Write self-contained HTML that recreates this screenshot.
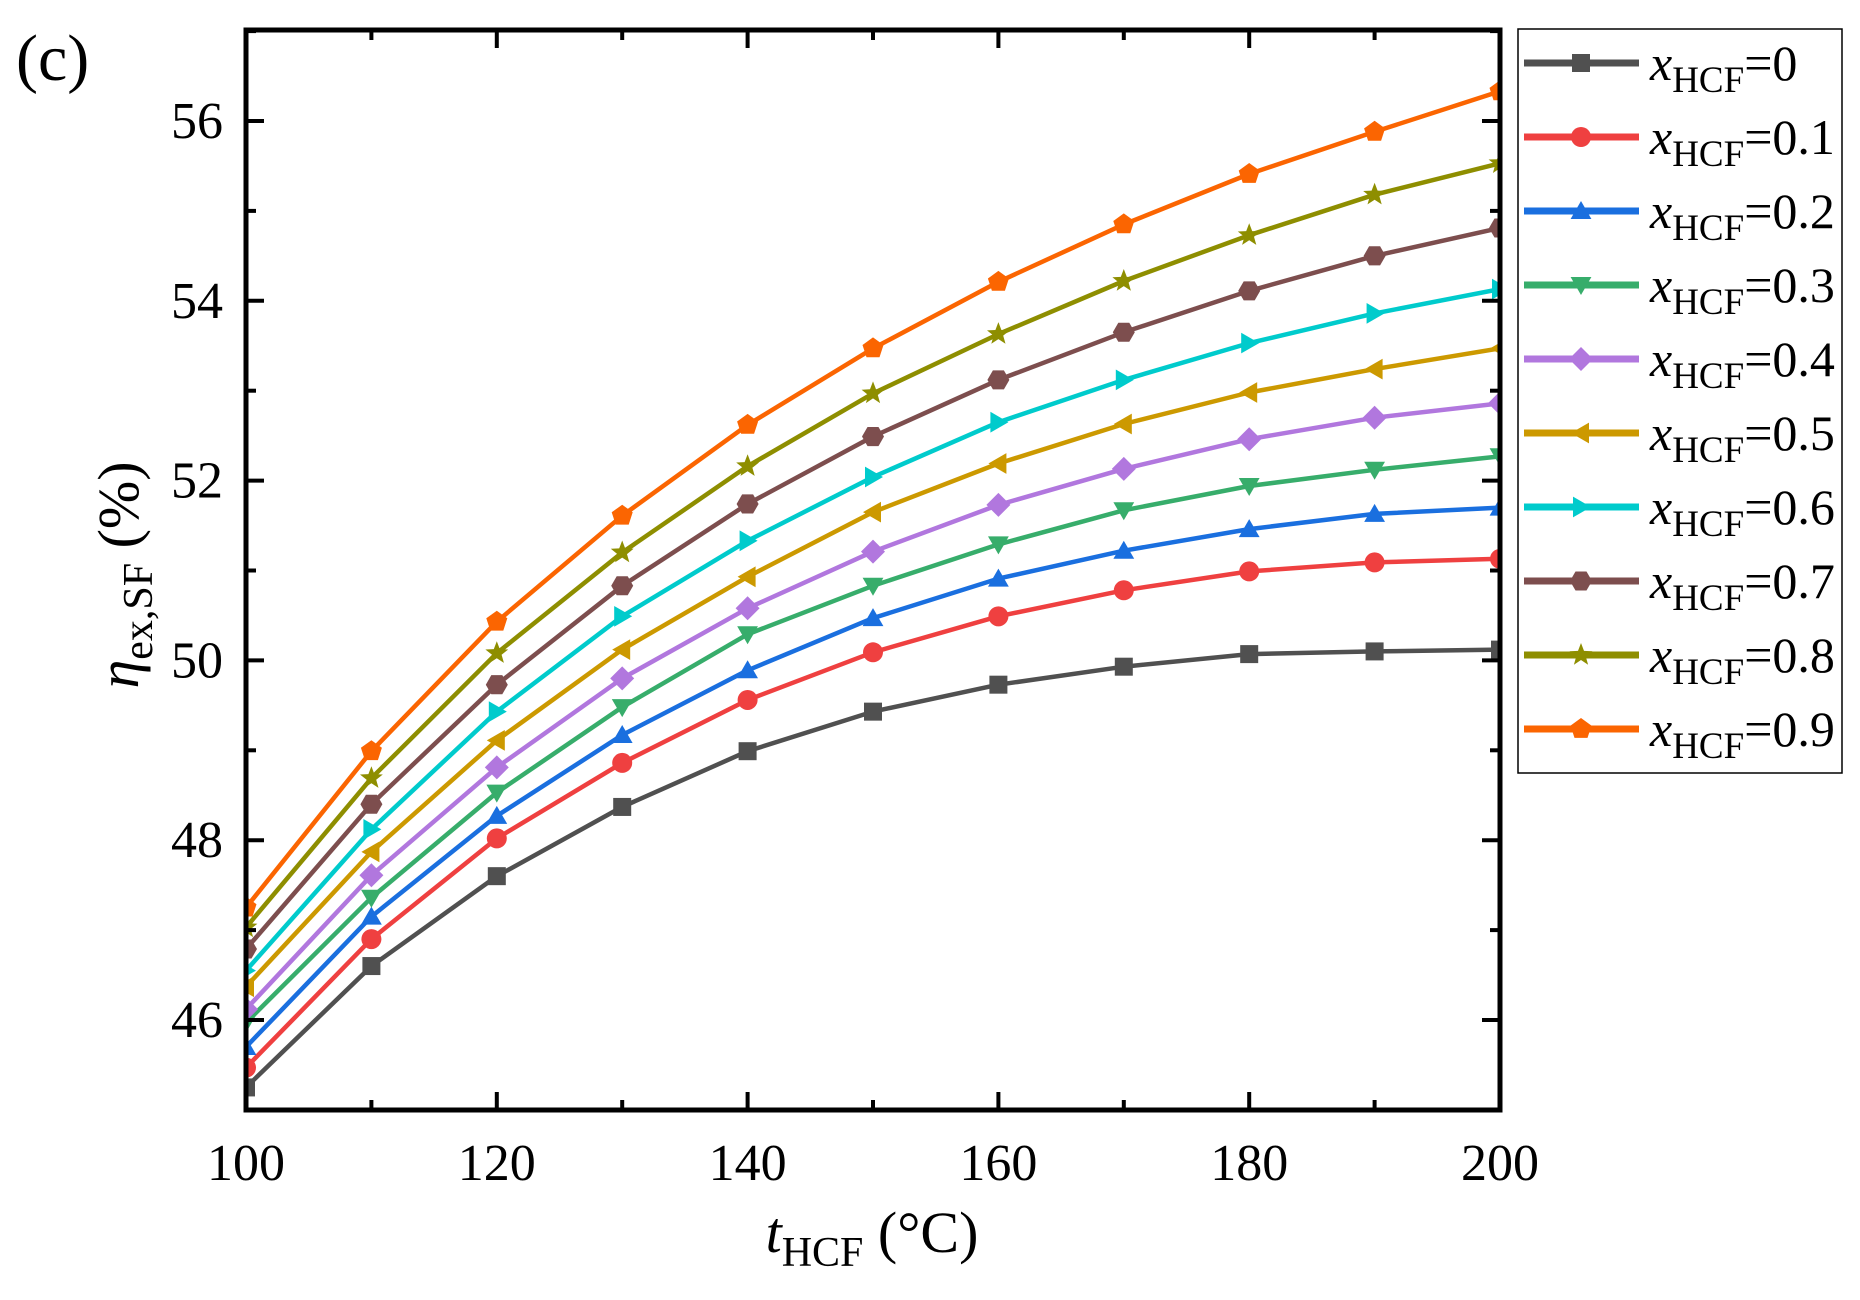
<!DOCTYPE html>
<html><head><meta charset="utf-8"><style>
html,body{margin:0;padding:0;background:#fff;}
svg{display:block;font-family:"Liberation Serif","Times New Roman",serif;}
</style></head><body>
<svg id="s" width="1860" height="1300" viewBox="0 0 1860 1300" xmlns="http://www.w3.org/2000/svg">
<defs><clipPath id="c"><rect x="246" y="30" width="1254" height="1080"/></clipPath></defs>
<text x="16" y="80" font-size="66">(c)</text>
<g id="plot" clip-path="url(#c)"></g>
<g id="axes"></g>
<rect x="1518" y="29" width="324" height="744" fill="none" stroke="#000" stroke-width="1.5"/>
<g id="leg"></g>
<text x="872" y="1252" font-size="58" text-anchor="middle"><tspan font-style="italic">t</tspan><tspan font-size="42" dy="14">HCF</tspan><tspan dy="-14"> (°C)</tspan></text>
<text transform="translate(138,575) rotate(-90)" font-size="58" text-anchor="middle"><tspan font-style="italic">η</tspan><tspan font-size="42" dy="14">ex,SF</tspan><tspan dy="-14"> (%)</tspan></text>
</svg>
<script>
const NS="http://www.w3.org/2000/svg";
function X(t){return 246+(t-100)*12.54;}
function Y(v){return 121+(56-v)*89.9;}
const data=[
["0","#505050","sq",[45.25,46.6,47.6,48.37,48.99,49.43,49.73,49.93,50.07,50.1,50.12]],
["0.1","#ef4040","ci",[45.47,46.9,48.02,48.86,49.56,50.09,50.49,50.78,50.99,51.09,51.13]],
["0.2","#1a6fdf","tu",[45.7,47.15,48.27,49.17,49.89,50.47,50.91,51.22,51.46,51.63,51.7]],
["0.3","#37ad6b","td",[45.97,47.36,48.53,49.48,50.29,50.83,51.29,51.67,51.94,52.12,52.27]],
["0.4","#b177de","di",[46.12,47.61,48.81,49.8,50.58,51.21,51.73,52.13,52.46,52.7,52.86]],
["0.5","#cc9900","tl",[46.37,47.87,49.11,50.12,50.93,51.65,52.19,52.63,52.98,53.24,53.47]],
["0.6","#00cbcc","tr",[46.55,48.12,49.43,50.49,51.33,52.04,52.65,53.12,53.53,53.86,54.13]],
["0.7","#7d4e4e","hx",[46.79,48.4,49.73,50.83,51.74,52.49,53.12,53.65,54.11,54.5,54.81]],
["0.8","#8e8e00","st",[47.03,48.69,50.08,51.2,52.16,52.97,53.63,54.22,54.73,55.18,55.53]],
["0.9","#fb6501","pe",[47.25,48.99,50.43,51.61,52.62,53.47,54.21,54.85,55.41,55.88,56.33]]];
function el(n,a,p){const e=document.createElementNS(NS,n);for(const k in a)e.setAttribute(k,a[k]);p.appendChild(e);return e;}
function poly(cx,cy,r,n,rot){let p=[];for(let i=0;i<n;i++){const a=rot+i*2*Math.PI/n;p.push((cx+r*Math.cos(a)).toFixed(1)+","+(cy+r*Math.sin(a)).toFixed(1));}return p.join(" ");}
function star(cx,cy,r){let p=[];for(let i=0;i<10;i++){const a=-Math.PI/2+i*Math.PI/5;const rr=i%2?r*0.42:r;p.push((cx+rr*Math.cos(a)).toFixed(1)+","+(cy+rr*Math.sin(a)).toFixed(1));}return p.join(" ");}
function marker(t,x,y,c,g){const r=11;
 if(t=="sq")el("rect",{x:x-9,y:y-9,width:18,height:18,fill:c},g);
 else if(t=="ci")el("circle",{cx:x,cy:y,r:10,fill:c},g);
 else if(t=="tu")el("polygon",{points:poly(x,y+2,r+1,3,-Math.PI/2),fill:c},g);
 else if(t=="td")el("polygon",{points:poly(x,y-2,r+1,3,Math.PI/2),fill:c},g);
 else if(t=="di")el("polygon",{points:poly(x,y,r+1,4,0),fill:c},g);
 else if(t=="tl")el("polygon",{points:poly(x+2,y,r+1,3,Math.PI),fill:c},g);
 else if(t=="tr")el("polygon",{points:poly(x-2,y,r+1,3,0),fill:c},g);
 else if(t=="hx")el("polygon",{points:poly(x,y,r,6,0),fill:c},g);
 else if(t=="st")el("polygon",{points:star(x,y,r+1),fill:c},g);
 else if(t=="pe")el("polygon",{points:poly(x,y,r,5,-Math.PI/2),fill:c},g);}
const P=document.getElementById("plot"),L=document.getElementById("leg"),A=document.getElementById("axes");
data.forEach((d,i)=>{
 const pts=d[3].map((v,j)=>X(100+10*j).toFixed(1)+","+Y(v).toFixed(1)).join(" ");
 el("polyline",{points:pts,fill:"none",stroke:d[1],"stroke-width":4.5,"stroke-linejoin":"round"},P);
 d[3].forEach((v,j)=>marker(d[2],X(100+10*j),Y(v),d[1],P));
 const ly=63+i*74;
 el("line",{x1:1524,y1:ly,x2:1639,y2:ly,stroke:d[1],"stroke-width":7},L);
 marker(d[2],1581,ly,d[1],L);
 const t=el("text",{x:1650,y:ly+17,"font-size":50},L);
 t.innerHTML='<tspan font-style="italic">x</tspan><tspan font-size="37" dy="12">HCF</tspan><tspan dy="-12">='+d[0]+'</tspan>';
});
el("rect",{x:246,y:30,width:1254,height:1080,fill:"none",stroke:"#000","stroke-width":5},A);
for(let t=100;t<=200;t+=10){const x=X(t),m=(t%20==0);const l=m?18:10;
 el("line",{x1:x,y1:1110,x2:x,y2:1110-l,stroke:"#000","stroke-width":4},A);
 el("line",{x1:x,y1:30,x2:x,y2:30+l,stroke:"#000","stroke-width":4},A);
 if(m){const tx=el("text",{x:x,y:1180,"font-size":52,"text-anchor":"middle"},A);tx.textContent=t;}}
for(let v=46;v<=57;v++){const y=Y(v),m=(v%2==0);const l=m?18:10;
 el("line",{x1:246,y1:y,x2:246+l,y2:y,stroke:"#000","stroke-width":4},A);
 el("line",{x1:1500,y1:y,x2:1500-l,y2:y,stroke:"#000","stroke-width":4},A);
 if(m){const tx=el("text",{x:223,y:y+17,"font-size":52,"text-anchor":"end"},A);tx.textContent=v;}}
</script>
</body></html>
